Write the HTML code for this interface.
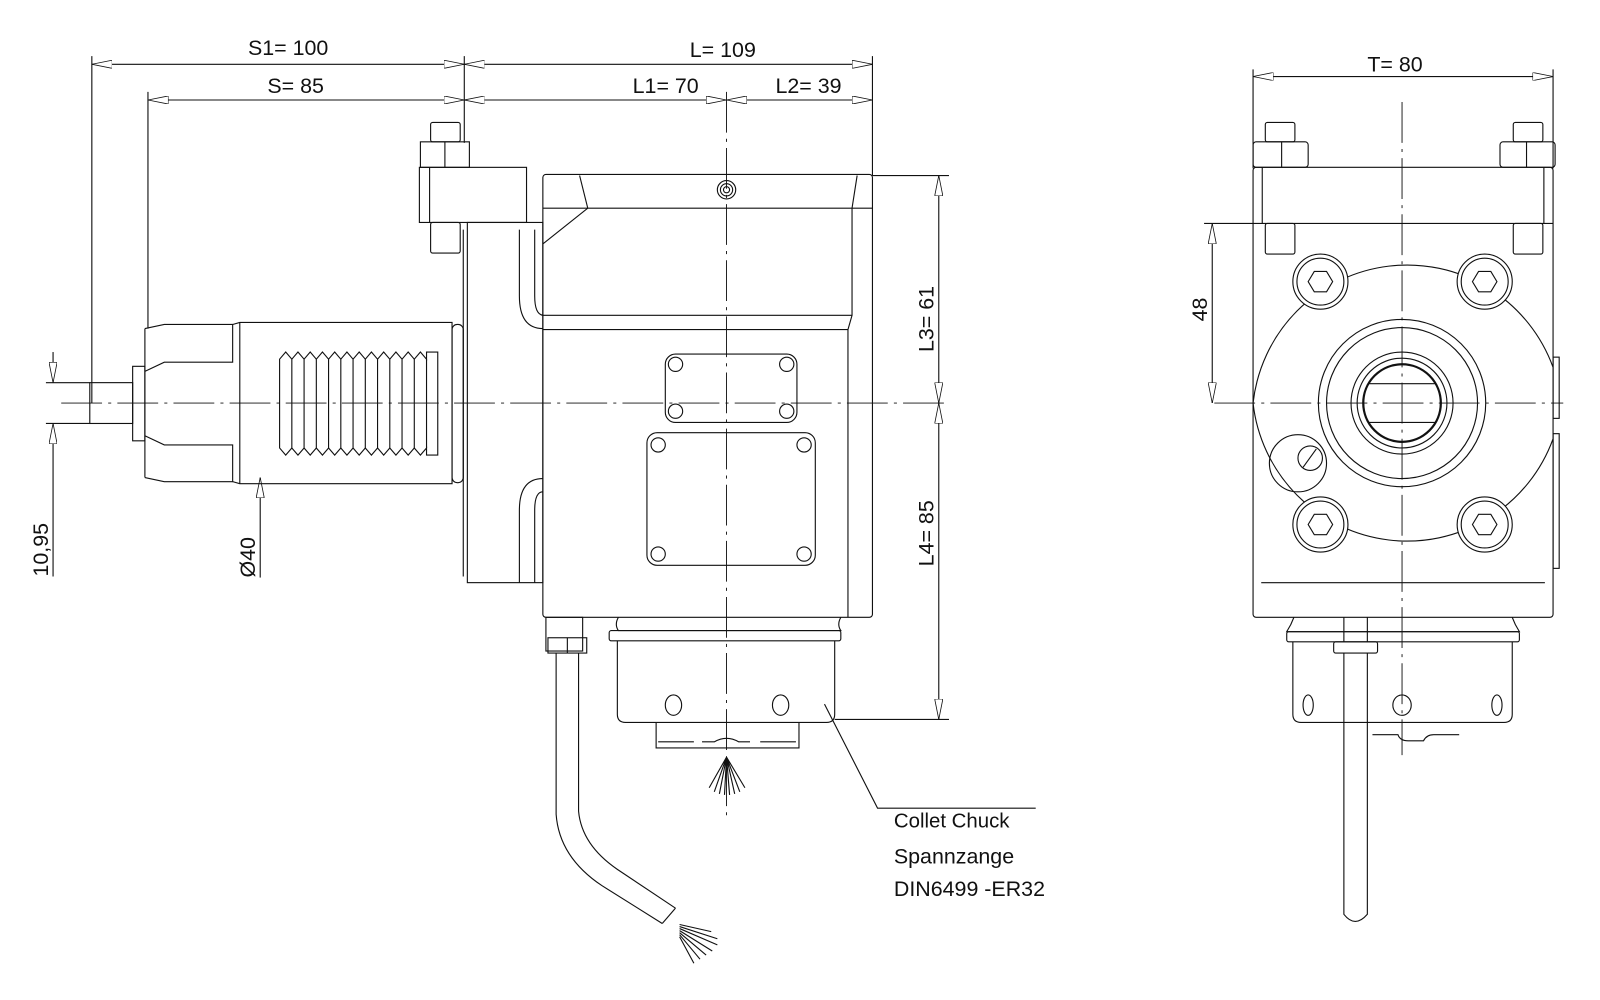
<!DOCTYPE html>
<html><head><meta charset="utf-8"><style>
html,body{margin:0;padding:0;background:#fff;}
svg{display:block;}
text{font-family:"Liberation Sans",sans-serif;fill:#111;}
</style></head><body>
<svg width="1600" height="1000" viewBox="0 0 1568 980" xmlns="http://www.w3.org/2000/svg">
<defs>
<marker id="a" viewBox="0 0 20 8" refX="20" refY="4" markerWidth="20" markerHeight="8" markerUnits="userSpaceOnUse" orient="auto-start-reverse"><path d="M0,0 L20,4 L0,8 Z" fill="#fff" stroke="#111" stroke-width="0.8"/></marker>
</defs>
<g fill="none" stroke="#111" stroke-width="1.1">
<line x1="90" y1="63" x2="455" y2="63" marker-start="url(#a)" marker-end="url(#a)"/>
<line x1="455" y1="63" x2="855" y2="63" marker-start="url(#a)" marker-end="url(#a)"/>
<line x1="145" y1="98" x2="455" y2="98" marker-start="url(#a)" marker-end="url(#a)"/>
<line x1="455" y1="98" x2="712" y2="98" marker-start="url(#a)" marker-end="url(#a)"/>
<line x1="712" y1="98" x2="855" y2="98" marker-start="url(#a)" marker-end="url(#a)"/>
<line x1="90" y1="55" x2="90" y2="395"/>
<line x1="145" y1="90" x2="145" y2="322"/>
<line x1="455" y1="55" x2="455" y2="140"/>
<line x1="855" y1="55" x2="855" y2="172"/>
<line x1="1228" y1="75" x2="1522" y2="75" marker-start="url(#a)" marker-end="url(#a)"/>
<line x1="1228" y1="68" x2="1228" y2="165"/>
<line x1="1522" y1="68" x2="1522" y2="165"/>
<line x1="1188" y1="219" x2="1188" y2="395" marker-start="url(#a)" marker-end="url(#a)"/>
<line x1="1180" y1="219" x2="1228" y2="219"/>
<line x1="920" y1="172" x2="920" y2="395" marker-start="url(#a)" marker-end="url(#a)"/>
<line x1="920" y1="395" x2="920" y2="705" marker-start="url(#a)" marker-end="url(#a)"/>
<line x1="855" y1="172" x2="930" y2="172"/>
<line x1="818" y1="705" x2="930" y2="705"/>
<line x1="45" y1="375" x2="88" y2="375"/>
<line x1="45" y1="415" x2="88" y2="415"/>
<line x1="52" y1="345" x2="52" y2="375" marker-end="url(#a)"/>
<line x1="52" y1="565" x2="52" y2="415" marker-end="url(#a)"/>
<line x1="255" y1="566" x2="255" y2="468" marker-end="url(#a)"/>
<g stroke-dasharray="40,6,3,6" stroke-width="0.9">
<line x1="60" y1="395" x2="930" y2="395"/>
<line x1="712" y1="90" x2="712" y2="800"/>
<line x1="1190" y1="395" x2="1532" y2="395"/>
<line x1="1374" y1="100" x2="1374" y2="740"/>
</g>
<rect x="88" y="375" width="42" height="40"/>
<rect x="130" y="359" width="12" height="73"/>
<path d="M142,322 L161,318 L228,318 L228,355 L161,355 L142,364"/>
<path d="M142,468 L161,472 L228,472 L228,436 L161,436 L142,427"/>
<line x1="142" y1="322" x2="142" y2="468"/>
<path d="M228,318 L235,316 L443,316 L443,474 L235,474 L228,472"/>
<line x1="235" y1="316" x2="235" y2="474"/>
<rect x="443" y="318" width="11" height="155" rx="5"/>
<g>
<path d="M274,352 L280,345 L286,352 L292,345 L298,352 L304,345 L310,352 L316,345 L322,352 L328,345 L334,352 L340,345 L346,352 L352,345 L358,352 L364,345 L370,352 L376,345 L382,352 L388,345 L394,352 L400,345 L406,352 L412,345 L418,352 L418,345 L429,345 L429,446 L418,446 L418,439 L412,446 L406,439 L400,446 L394,439 L388,446 L382,439 L376,446 L370,439 L364,446 L358,439 L352,446 L346,439 L340,446 L334,439 L328,446 L322,439 L316,446 L310,439 L304,446 L298,439 L292,446 L286,439 L280,446 L274,439 Z"/>
<line x1="286" y1="352" x2="286" y2="439"/><line x1="298" y1="352" x2="298" y2="439"/><line x1="310" y1="352" x2="310" y2="439"/><line x1="322" y1="352" x2="322" y2="439"/><line x1="334" y1="352" x2="334" y2="439"/><line x1="346" y1="352" x2="346" y2="439"/><line x1="358" y1="352" x2="358" y2="439"/><line x1="370" y1="352" x2="370" y2="439"/><line x1="382" y1="352" x2="382" y2="439"/><line x1="394" y1="352" x2="394" y2="439"/><line x1="406" y1="352" x2="406" y2="439"/><line x1="418" y1="352" x2="418" y2="439"/>
</g>
<rect x="458" y="218" width="74" height="353"/>
<line x1="454" y1="225" x2="454" y2="565"/>
<rect x="411" y="164" width="105" height="54"/>
<line x1="421" y1="164" x2="421" y2="218"/>
<rect x="412" y="139" width="48" height="25"/>
<line x1="436" y1="139" x2="436" y2="164"/>
<rect x="422" y="120" width="29" height="19" rx="2"/>
<rect x="422" y="218" width="29" height="30" rx="2"/>
<path d="M509,225 L509,290 Q509,322 532,322"/>
<path d="M524,225 L524,290 Q524,308 532,309"/>
<path d="M532,469 Q509,469 509,500 L509,571"/>
<path d="M532,482 Q524,482 524,500 L524,571"/>
<rect x="532" y="171" width="323" height="434" rx="3"/>
<line x1="532" y1="204" x2="855" y2="204"/>
<path d="M568,172 L576,204 L532,239"/>
<path d="M840,172 L835,204 L835,309 L831,323 L831,605"/>
<line x1="532" y1="309" x2="835" y2="309"/>
<line x1="532" y1="323" x2="831" y2="323"/>
<circle cx="712" cy="186" r="9"/><circle cx="712" cy="186" r="6"/><circle cx="712" cy="186" r="3"/>
<rect x="652" y="347" width="129" height="67" rx="10"/>
<circle cx="662" cy="357" r="7"/><circle cx="771" cy="357" r="7"/><circle cx="662" cy="403" r="7"/><circle cx="771" cy="403" r="7"/>
<rect x="634" y="424" width="165" height="130" rx="10"/>
<circle cx="645" cy="436" r="7"/><circle cx="788" cy="436" r="7"/><circle cx="645" cy="543" r="7"/><circle cx="788" cy="543" r="7"/>
<rect x="535" y="605" width="36" height="33"/>
<rect x="537" y="625" width="38" height="15"/>
<line x1="556" y1="625" x2="556" y2="640"/>
<path d="M606,605 Q602,612 606,618 L824,618 Q820,612 824,605"/>
<rect x="597" y="618" width="227" height="10" rx="2"/>
<path d="M605,628 L605,700 Q605,708 613,708 L810,708 Q818,708 818,700 L818,628"/>
<ellipse cx="660" cy="691" rx="8" ry="10"/><ellipse cx="765" cy="691" rx="8" ry="10"/>
<path d="M643,708 L643,733 L783,733 L783,708"/>
<path d="M645,727 L680,727 M688,727 L700,727 Q712,720 724,727 L735,727 M745,727 L780,727"/>
<path d="M712,742 L695,772 M712,742 L700,776 M712,742 L705,778 M712,742 L710,779 M712,742 L715,779 M712,742 L720,778 M712,742 L725,776 M712,742 L730,772"/>
<path d="M545,640 L545,798 Q548,840 590,868 L649,905"/>
<path d="M567,640 L567,795 Q570,828 605,852 L662,890"/>
<line x1="649" y1="905" x2="662" y2="890"/>
<path d="M666,906 L697,913 M666,908 L703,920 M666,910 L703,926 M666,912 L698,932 M666,914 L692,936 M666,916 L686,940 M666,918 L680,944"/>
<polyline points="808,690 860,792 1015,792"/>
<rect x="1228" y="164" width="294" height="441" rx="3"/>
<line x1="1237" y1="164" x2="1237" y2="219"/><line x1="1513" y1="164" x2="1513" y2="219"/>
<line x1="1228" y1="219" x2="1522" y2="219"/>
<line x1="1236" y1="571" x2="1514" y2="571"/>
<rect x="1228" y="139" width="54" height="25" rx="3"/><line x1="1256" y1="139" x2="1256" y2="164"/>
<rect x="1470" y="139" width="54" height="25" rx="3"/><line x1="1496" y1="139" x2="1496" y2="164"/>
<rect x="1240" y="120" width="29" height="19" rx="2"/><rect x="1240" y="219" width="29" height="30" rx="2"/>
<rect x="1483" y="120" width="29" height="19" rx="2"/><rect x="1483" y="219" width="29" height="30" rx="2"/>
<path d="M1228,395 A152,152 0 0 1 1522,360" />
<path d="M1228,395 A152,152 0 0 0 1522,430" />
<circle cx="1374" cy="395" r="82"/><circle cx="1374" cy="395" r="74"/><circle cx="1374" cy="395" r="50"/><circle cx="1374" cy="395" r="44"/>
<circle cx="1374" cy="395" r="38" stroke-width="2.2"/>
<line x1="1342" y1="376" x2="1406" y2="376"/><line x1="1342" y1="414" x2="1406" y2="414"/>
<g fill="#fff">
<circle cx="1294" cy="276" r="27"/><circle cx="1294" cy="276" r="23"/>
<circle cx="1455" cy="276" r="27"/><circle cx="1455" cy="276" r="23"/>
<circle cx="1294" cy="514" r="27"/><circle cx="1294" cy="514" r="23"/>
<circle cx="1455" cy="514" r="27"/><circle cx="1455" cy="514" r="23"/>
</g>
<polygon points="1282,276 1288,266 1300,266 1306,276 1300,286 1288,286"/>
<polygon points="1443,276 1449,266 1461,266 1467,276 1461,286 1449,286"/>
<polygon points="1282,514 1288,504 1300,504 1306,514 1300,524 1288,524"/>
<polygon points="1443,514 1449,504 1461,504 1467,514 1461,524 1449,524"/>
<circle cx="1272" cy="454" r="28"/><circle cx="1284" cy="449" r="12"/>
<line x1="1277" y1="458" x2="1290" y2="440"/>
<rect x="1522" y="350" width="6" height="60"/><rect x="1522" y="425" width="6" height="132"/>
<path d="M1268,605 L1265,612 L1261,619 L1489,619 L1485,612 L1482,605"/>
<rect x="1261" y="619" width="228" height="10" rx="2"/>
<path d="M1267,629 L1267,700 Q1267,708 1275,708 L1474,708 Q1482,708 1482,700 L1482,629"/>
<ellipse cx="1282" cy="691" rx="5" ry="10"/><ellipse cx="1374" cy="691" rx="9" ry="10"/><ellipse cx="1467" cy="691" rx="5" ry="10"/>
<path d="M1345,720 L1370,720 Q1372,726 1380,726 L1395,726 Q1398,720 1405,720 L1430,720"/>
<path d="M1317,605 L1317,629 M1340,605 L1340,629"/>
<rect x="1307" y="629" width="43" height="11" rx="2"/>
<path d="M1317,640 L1317,896 Q1328,910 1340,896 L1340,640"/>
</g>
<g font-size="21">
<text x="243" y="54">S1= 100</text>
<text x="676" y="56">L= 109</text>
<text x="262" y="91">S= 85</text>
<text x="620" y="91">L1= 70</text>
<text x="760" y="91">L2= 39</text>
<text x="1340" y="70">T= 80</text>
<text transform="translate(1183,315) rotate(-90)">48</text>
<text transform="translate(915,345) rotate(-90)">L3= 61</text>
<text transform="translate(915,555) rotate(-90)">L4= 85</text>
<text transform="translate(47,565) rotate(-90)">10,95</text>
<text transform="translate(250,566) rotate(-90)">Ø40</text>
<text x="876" y="811" font-size="20">Collet Chuck</text>
<text x="876" y="846">Spannzange</text>
<text x="876" y="878">DIN6499 -ER32</text>
</g>
</svg>
</body></html>
